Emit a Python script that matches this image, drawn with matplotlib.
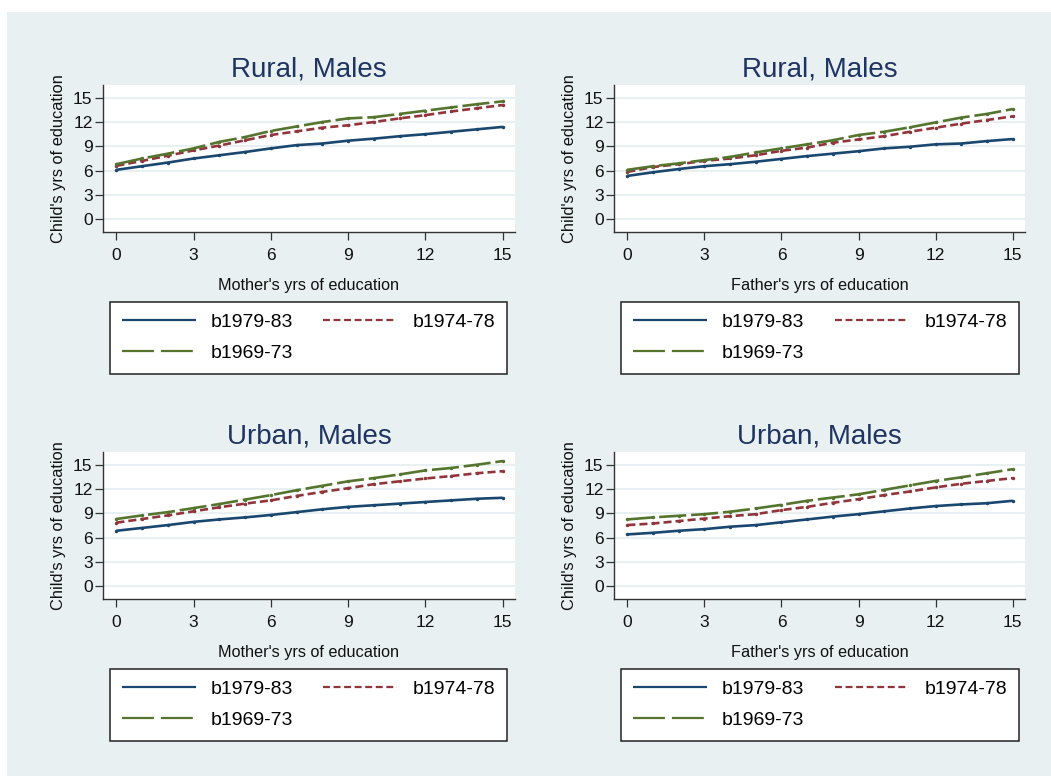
import matplotlib
matplotlib.use("Agg")
import matplotlib.pyplot as plt
from matplotlib.lines import Line2D
from matplotlib.patches import Rectangle

plt.rcParams['font.family'] = ['Liberation Sans', 'DejaVu Sans']
plt.rcParams['lines.scale_dashes'] = False

# ---------------- data ----------------
parent_years = list(range(16))
cohorts = ["b1979-83", "b1974-78", "b1969-73"]

titles = ["Rural, Males", "Rural, Males", "Urban, Males", "Urban, Males"]
xlabels = ["Mother's yrs of education", "Father's yrs of education",
           "Mother's yrs of education", "Father's yrs of education"]
ylabel = "Child's yrs of education"
ticks = [0, 3, 6, 9, 12, 15]

# Rural, Males - mother
rm_b7983 = [6.1, 6.55, 7.0, 7.5, 7.9, 8.3, 8.75, 9.15, 9.35, 9.7, 9.95, 10.25, 10.5, 10.8, 11.1, 11.4]
rm_b7478 = [6.6, 7.2, 7.85, 8.5, 9.1, 9.75, 10.4, 10.85, 11.3, 11.6, 12.0, 12.45, 12.85, 13.3, 13.7, 14.1]
rm_b6973 = [6.8, 7.5, 8.1, 8.75, 9.55, 10.15, 10.9, 11.45, 12.0, 12.45, 12.6, 13.0, 13.4, 13.8, 14.2, 14.55]
# Rural, Males - father
rf_b7983 = [5.35, 5.8, 6.2, 6.55, 6.8, 7.1, 7.45, 7.8, 8.1, 8.4, 8.75, 8.95, 9.25, 9.35, 9.65, 9.9]
rf_b7478 = [5.85, 6.45, 6.8, 7.2, 7.5, 7.9, 8.45, 8.85, 9.45, 9.85, 10.25, 10.8, 11.3, 11.8, 12.25, 12.7]
rf_b6973 = [6.1, 6.55, 6.9, 7.3, 7.7, 8.25, 8.75, 9.25, 9.75, 10.4, 10.8, 11.35, 11.95, 12.55, 13.0, 13.6]
# Urban, Males - mother
um_b7983 = [6.85, 7.2, 7.55, 7.95, 8.25, 8.5, 8.8, 9.15, 9.5, 9.8, 10.0, 10.2, 10.4, 10.6, 10.8, 10.92]
um_b7478 = [7.85, 8.3, 8.75, 9.25, 9.75, 10.2, 10.6, 11.15, 11.65, 12.1, 12.6, 12.95, 13.3, 13.6, 13.95, 14.2]
um_b6973 = [8.3, 8.75, 9.15, 9.65, 10.15, 10.7, 11.25, 11.85, 12.4, 12.95, 13.35, 13.8, 14.3, 14.6, 15.0, 15.45]
# Urban, Males - father
uf_b7983 = [6.4, 6.6, 6.85, 7.05, 7.35, 7.55, 7.9, 8.25, 8.6, 8.9, 9.25, 9.6, 9.9, 10.1, 10.25, 10.55]
uf_b7478 = [7.55, 7.75, 8.05, 8.35, 8.65, 8.9, 9.4, 9.8, 10.3, 10.75, 11.25, 11.7, 12.2, 12.65, 13.0, 13.35]
uf_b6973 = [8.25, 8.5, 8.7, 8.9, 9.2, 9.6, 10.05, 10.55, 10.95, 11.35, 11.9, 12.45, 13.0, 13.45, 13.95, 14.45]

panels = [
    (rm_b7983, rm_b7478, rm_b6973),
    (rf_b7983, rf_b7478, rf_b6973),
    (um_b7983, um_b7478, um_b6973),
    (uf_b7983, uf_b7478, uf_b6973),
]

# ---------------- style ----------------
W, H = 1051, 776
BG = "#E8F0F2"
colors = ["#1A476F", "#90353B", "#55752F"]
plot_dashes = [None, (5.8, 2.9), (19.5, 3.5)]
leg_dashes = [None, (5.0, 2.6), (23.0, 5.0)]
TITLE_C = "#1F3461"

fig = plt.figure(figsize=(W / 100, H / 100), dpi=100, facecolor="white")
fig.patches.append(Rectangle((7 / W, 0), 1 - 7 / W, 1 - 12 / H,
                             transform=fig.transFigure, facecolor=BG,
                             edgecolor="none", zorder=-10))

# axes boxes in pixels: (left, top, right, bottom)
boxes = [(103, 85, 515, 232), (614, 85, 1025, 232),
         (103, 452, 515, 599), (614, 452, 1025, 599)]
legend_boxes = [(110, 302, 507), (621, 302, 1019),
                (110, 669, 507), (621, 669, 1019)]

for i, (l, t, r, b) in enumerate(boxes):
    ax = fig.add_axes([l / W, 1 - b / H, (r - l) / W, (b - t) / H])
    ax.set_facecolor("white")
    series = panels[i]
    for k, ys in enumerate(series):
        ln, = ax.plot(parent_years, ys, color=colors[k], lw=1.9,
                      marker="o", ms=1.5, label=cohorts[k],
                      solid_capstyle="butt", dash_capstyle="butt")
        if plot_dashes[k] is not None:
            ln.set_dashes(plot_dashes[k])
    ax.set_xlim(-0.52, 15.48)
    ax.set_ylim(-1.57, 16.57)
    ax.set_xticks(ticks)
    ax.set_yticks(ticks)
    ax.grid(axis="y", color=BG, lw=1.5)
    ax.set_axisbelow(True)
    for s in ["top", "right"]:
        ax.spines[s].set_visible(False)
    for s in ["left", "bottom"]:
        ax.spines[s].set_color("#333333")
        ax.spines[s].set_linewidth(1.0)
    ax.tick_params(axis="both", length=5.5, width=0.9, color="#333333",
                   labelsize=12.5, labelcolor="#111111")
    ax.tick_params(axis="x", pad=6)
    ax.tick_params(axis="y", pad=2)
    ax.set_title(titles[i], fontsize=20, color=TITLE_C, pad=6)
    ax.set_xlabel(xlabels[i], fontsize=11.7, labelpad=10.5, color="#111111")
    ax.set_ylabel(ylabel, fontsize=11.8, labelpad=5, color="#111111")

    # legend
    handles = []
    for k in range(3):
        h = Line2D([0], [0], color=colors[k], lw=1.6,
                   solid_capstyle="butt", dash_capstyle="butt")
        if leg_dashes[k] is not None:
            h.set_dashes(leg_dashes[k])
        handles.append(h)
    order = [0, 2, 1]
    lx0, lt, lx1 = legend_boxes[i]
    leg = fig.legend([handles[o] for o in order], [cohorts[o] for o in order],
                     loc="upper left",
                     bbox_to_anchor=(lx0 / W, 1 - lt / H, (lx1 - lx0) / W, 0.0001),
                     mode="expand", ncol=2, fontsize=14, frameon=True,
                     fancybox=False, borderaxespad=0, borderpad=0.6,
                     handlelength=3.8, handletextpad=0.8, labelspacing=0.68,
                     columnspacing=2.0)
    fr = leg.get_frame()
    fr.set_edgecolor("#222222")
    fr.set_linewidth(1.1)
    fr.set_facecolor("white")
    fr.set_alpha(1)

fig.savefig("out.png", dpi=100, facecolor="white")
